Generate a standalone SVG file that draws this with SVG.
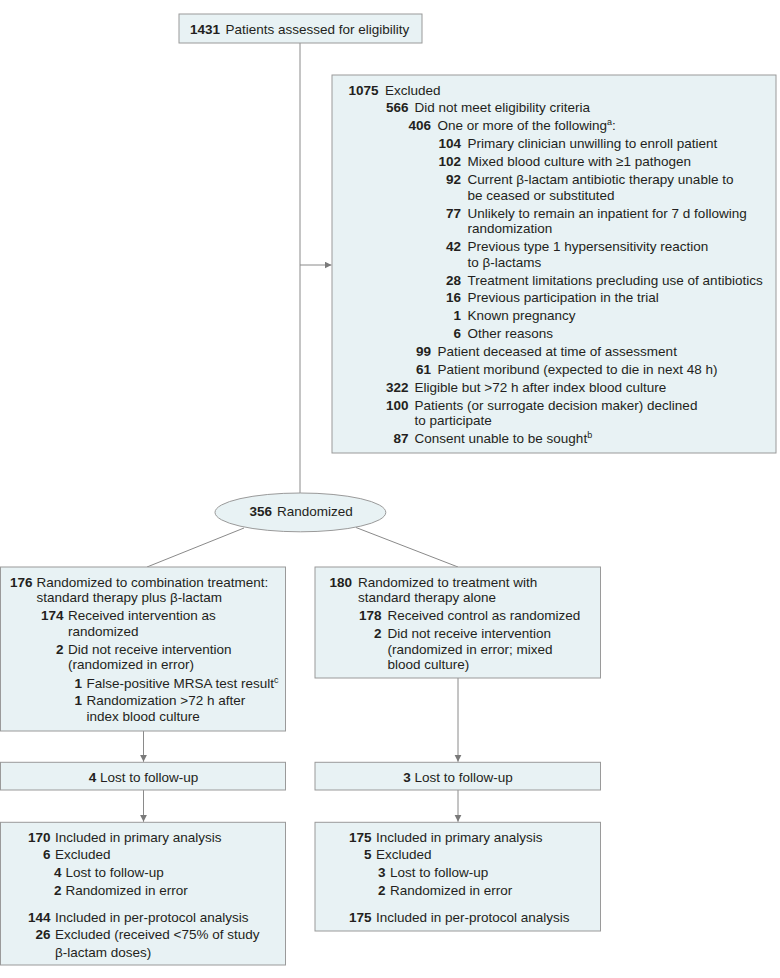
<svg xmlns="http://www.w3.org/2000/svg" width="780" height="978" viewBox="0 0 780 978">
<style>
.box{fill:#e8f2f4;stroke:#9a9a9a;stroke-width:1}
.ln{fill:none;stroke:#8a8a8a;stroke-width:1}
text{font-family:"Liberation Sans",Arial,sans-serif;font-size:13.5px;fill:#231f20}
.n{font-weight:bold;text-anchor:end}
.c{text-anchor:middle}
.b{font-weight:bold}
</style>
<defs>
<marker id="ah" markerUnits="userSpaceOnUse" markerWidth="8" markerHeight="8" refX="7" refY="3.5" orient="auto">
<path d="M0,0 L7,3.5 L0,7 z" fill="#7a7a7a"/>
</marker>
</defs>
<rect width="780" height="978" fill="#ffffff"/>
<g id="connectors">
<line class="ln" x1="300" y1="43" x2="300" y2="493"/>
<line class="ln" x1="300" y1="265" x2="331.5" y2="265" marker-end="url(#ah)"/>
<line class="ln" x1="244" y1="528" x2="147" y2="567"/>
<line class="ln" x1="356" y1="527.5" x2="458" y2="567"/>
<line class="ln" x1="143.5" y1="731" x2="143.5" y2="761.8" marker-end="url(#ah)"/>
<line class="ln" x1="458" y1="678" x2="458" y2="761.8" marker-end="url(#ah)"/>
<line class="ln" x1="143.5" y1="790" x2="143.5" y2="821.8" marker-end="url(#ah)"/>
<line class="ln" x1="458" y1="790" x2="458" y2="821.8" marker-end="url(#ah)"/>
</g>
<g id="assessed">
<rect class="box" x="179" y="14" width="243" height="29"/>
<text class="n" x="220" y="34">1431</text>
<text x="225.5" y="34">Patients assessed for eligibility</text>
</g>
<g id="excluded">
<rect class="box" x="332" y="75" width="444" height="378"/>
<text class="n" x="378.5" y="94.5">1075</text><text x="385" y="94.5">Excluded</text>
<text class="n" x="408.5" y="112.4">566</text><text x="414.5" y="112.4">Did not meet eligibility criteria</text>
<text class="n" x="431" y="130.3">406</text><text x="437.5" y="130.3">One or more of the following<tspan dy="-5" font-size="9">a</tspan><tspan dy="5">:</tspan></text>
<text class="n" x="461" y="148.2">104</text><text x="467.5" y="148.2">Primary clinician unwilling to enroll patient</text>
<text class="n" x="461" y="166.1">102</text><text x="467.5" y="166.1">Mixed blood culture with ≥1 pathogen</text>
<text class="n" x="461" y="184">92</text><text x="467.5" y="184">Current β-lactam antibiotic therapy unable to</text>
<text x="467.5" y="199.6">be ceased or substituted</text>
<text class="n" x="461" y="217.5">77</text><text x="467.5" y="217.5">Unlikely to remain an inpatient for 7 d following</text>
<text x="467.5" y="233.1">randomization</text>
<text class="n" x="461" y="251">42</text><text x="467.5" y="251">Previous type 1 hypersensitivity reaction</text>
<text x="467.5" y="266.6">to β-lactams</text>
<text class="n" x="461" y="284.5">28</text><text x="467.5" y="284.5">Treatment limitations precluding use of antibiotics</text>
<text class="n" x="461" y="302.4">16</text><text x="467.5" y="302.4">Previous participation in the trial</text>
<text class="n" x="461" y="320.3">1</text><text x="467.5" y="320.3">Known pregnancy</text>
<text class="n" x="461" y="338.2">6</text><text x="467.5" y="338.2">Other reasons</text>
<text class="n" x="431" y="356.1">99</text><text x="437.5" y="356.1">Patient deceased at time of assessment</text>
<text class="n" x="431" y="374">61</text><text x="437.5" y="374">Patient moribund (expected to die in next 48 h)</text>
<text class="n" x="408.5" y="391.9">322</text><text x="414.5" y="391.9">Eligible but &gt;72 h after index blood culture</text>
<text class="n" x="408.5" y="409.8">100</text><text x="414.5" y="409.8">Patients (or surrogate decision maker) declined</text>
<text x="414.5" y="425.4">to participate</text>
<text class="n" x="408.5" y="443.3">87</text><text x="414.5" y="443.3">Consent unable to be sought<tspan dy="-5" font-size="9">b</tspan></text>
</g>
<g id="randomized">
<ellipse class="box" cx="300.4" cy="512.4" rx="85.4" ry="19.4"/>
<text class="n" x="272" y="515.5">356</text><text x="277" y="515.5">Randomized</text>
</g>
<g id="combination">
<rect class="box" x="0.5" y="567" width="285" height="164"/>
<text class="n" x="32.5" y="586.5">176</text><text x="36.5" y="586.5">Randomized to combination treatment:</text>
<text x="36.5" y="602">standard therapy plus β-lactam</text>
<text class="n" x="63.5" y="619.5">174</text><text x="68" y="619.5">Received intervention as</text>
<text x="68" y="635.5">randomized</text>
<text class="n" x="63.5" y="653.5">2</text><text x="68" y="653.5">Did not receive intervention</text>
<text x="68" y="669">(randomized in error)</text>
<text class="n" x="82" y="687.5">1</text><text x="86.5" y="687.5">False-positive MRSA test result<tspan dy="-5" font-size="9">c</tspan></text>
<text class="n" x="82" y="705">1</text><text x="86.5" y="705">Randomization &gt;72 h after</text>
<text x="86.5" y="721">index blood culture</text>
</g>
<g id="control">
<rect class="box" x="315" y="567" width="285.5" height="111"/>
<text class="n" x="352" y="586.5">180</text><text x="358" y="586.5">Randomized to treatment with</text>
<text x="358" y="602">standard therapy alone</text>
<text class="n" x="381.5" y="619.5">178</text><text x="387.5" y="619.5">Received control as randomized</text>
<text class="n" x="381.5" y="637.5">2</text><text x="387.5" y="637.5">Did not receive intervention</text>
<text x="387.5" y="653.5">(randomized in error; mixed</text>
<text x="387.5" y="669">blood culture)</text>
</g>
<g id="lost-combination">
<rect class="box" x="0.5" y="762.3" width="285" height="27.7"/>
<text class="c" x="143.5" y="781.5"><tspan class="b">4</tspan> Lost to follow-up</text>
</g>
<g id="lost-control">
<rect class="box" x="315" y="762.3" width="285.5" height="27.7"/>
<text class="c" x="458" y="781.5"><tspan class="b">3</tspan> Lost to follow-up</text>
</g>
<g id="analysis-combination">
<rect class="box" x="0.5" y="822.3" width="285" height="142.7"/>
<text class="n" x="50.5" y="841.5">170</text><text x="55" y="841.5">Included in primary analysis</text>
<text class="n" x="50.5" y="859">6</text><text x="55" y="859">Excluded</text>
<text class="n" x="61.5" y="877">4</text><text x="65.5" y="877">Lost to follow-up</text>
<text class="n" x="61.5" y="894.5">2</text><text x="65.5" y="894.5">Randomized in error</text>
<text class="n" x="50.5" y="921.5">144</text><text x="55" y="921.5">Included in per-protocol analysis</text>
<text class="n" x="50.5" y="939">26</text><text x="55" y="939">Excluded (received &lt;75% of study</text>
<text x="55" y="956.5">β-lactam doses)</text>
</g>
<g id="analysis-control">
<rect class="box" x="315" y="822.3" width="285.5" height="108.7"/>
<text class="n" x="371.5" y="841.5">175</text><text x="376" y="841.5">Included in primary analysis</text>
<text class="n" x="371.5" y="859">5</text><text x="376" y="859">Excluded</text>
<text class="n" x="385.5" y="877">3</text><text x="390" y="877">Lost to follow-up</text>
<text class="n" x="385.5" y="894.5">2</text><text x="390" y="894.5">Randomized in error</text>
<text class="n" x="371.5" y="921.5">175</text><text x="376" y="921.5">Included in per-protocol analysis</text>
</g>
</svg>
